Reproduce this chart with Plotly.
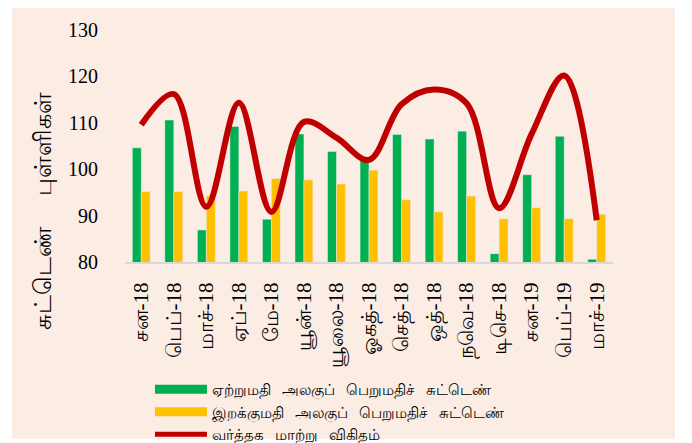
import plotly.graph_objects as go

months = ['சன-18', 'பெப்-18', 'மாச்-18', 'ஏப்-18', 'மே-18', 'யூன்-18', 'யூலை-18',
          'ஓகத்-18', 'செத்-18', 'ஒத்-18', 'நவெ-18', 'டிசெ-18', 'சன-19', 'பெப்-19', 'மாச்-19']
export_idx = [104.6, 110.6, 86.9, 109.2, 89.2, 107.6, 103.8, 102.0, 107.5, 106.5, 108.2, 81.8, 98.8, 107.1, 80.6]
import_idx = [95.2, 95.2, 94.3, 95.3, 98.0, 97.7, 96.8, 99.8, 93.4, 90.8, 94.2, 89.3, 91.7, 89.3, 90.3]
tot_ratio = [109.6, 116.2, 91.9, 114.3, 90.8, 110.2, 106.8, 102.0, 114.0, 117.2, 114.2, 91.6, 107.6, 120.2, 89.0]

SP = '\u00a0\u00a0 '
names = [SP.join(['ஏற்றுமதி', 'அலகுப்', 'பெறுமதிச்', 'சுட்டெண்']),
         SP.join(['இறக்குமதி', 'அலகுப்', 'பெறுமதிச்', 'சுட்டெண்']),
         SP.join(['வர்த்தக', 'மாற்று', 'விகிதம்'])]
ytitle = '\u00a0\u00a0\u00a0\u00a0 '.join(['சுட்டெண்', 'புள்ளிகள்'])

GREEN, YELLOW, RED = '#00B050', '#FFC000', '#C00000'
SERIF = 'Liberation Serif, Times New Roman, serif'

fig = go.Figure()
fig.add_trace(go.Bar(x=months, y=export_idx, marker_color=GREEN, showlegend=False))
fig.add_trace(go.Bar(x=months, y=import_idx, marker_color=YELLOW, showlegend=False))
fig.add_trace(go.Scatter(x=months, y=tot_ratio, mode='lines', showlegend=False,
                         line=dict(color=RED, width=6, shape='spline', smoothing=1.0)))

# legend proxies (wide swatches like the original)
for nm, col, w in zip(names, [GREEN, YELLOW, RED], [9, 9, 5]):
    fig.add_trace(go.Scatter(x=[None], y=[None], mode='lines', name=nm,
                             line=dict(color=col, width=w)))

# page body has an 8px margin, so margins are shifted by 8
fig.update_layout(
    width=692, height=443,
    margin=dict(l=117, r=87, t=22, b=189, autoexpand=False),
    paper_bgcolor='white',
    plot_bgcolor='rgba(0,0,0,0)',
    barmode='group', bargap=0.45, bargroupgap=0,
    font=dict(family=SERIF, color='black'),
    legend=dict(x=0.0512, y=-0.478, xanchor='left', yanchor='top',
                bgcolor='rgba(0,0,0,0)', itemwidth=52, tracegroupgap=0,
                font=dict(size=15), traceorder='normal'),
    shapes=[dict(type='rect', xref='paper', yref='paper', layer='below',
                 x0=-0.2316, x1=1.127, y0=-0.763, y1=1.129,
                 fillcolor='#FBECE4', line=dict(width=0))],
    annotations=[dict(text=ytitle, textangle=-90, xref='paper', yref='paper',
                      x=-0.166, y=0.22, xanchor='center', yanchor='middle',
                      showarrow=False, font=dict(size=24))],
)
fig.update_xaxes(showgrid=False, showline=True, linecolor='#D9D9D9', linewidth=2,
                 automargin=False, tickangle=-90, tickfont=dict(size=21, family=SERIF),
                 ticks='outside', ticklen=10, tickcolor='rgba(0,0,0,0)')
fig.update_yaxes(range=[80, 130], dtick=10, showgrid=False, zeroline=False, showline=False,
                 automargin=False, tickfont=dict(size=20, family=SERIF),
                 ticks='outside', ticklen=22, tickcolor='rgba(0,0,0,0)')

fig.write_html("out.html")
